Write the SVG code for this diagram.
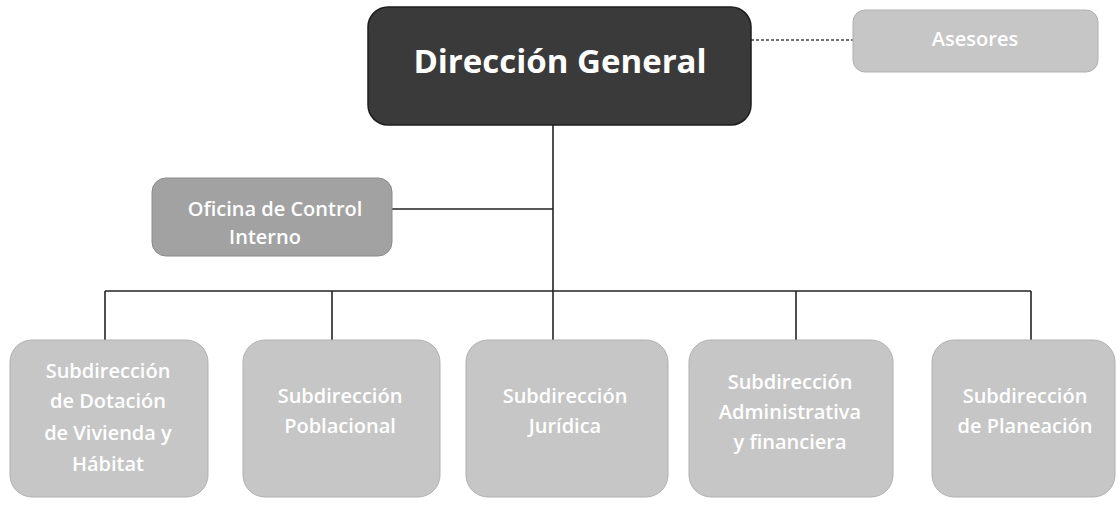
<svg xmlns="http://www.w3.org/2000/svg" width="1120" height="505" viewBox="0 0 1120 505">
<style>
.bg{fill:#ffffff}
.dark{fill:#3a3a3a;stroke:#1e1e1e;stroke-width:1.5}
.mid{fill:#a2a2a2;stroke:#8a8a8a;stroke-width:1}
.light{fill:#c6c6c6;stroke:#b0b0b0;stroke-width:1}
.t{font-family:"Open Sans","Liberation Sans",sans-serif;fill:#ffffff;text-anchor:middle;font-weight:600}
.big{font-size:33px;font-weight:700}
.sm{font-size:20px}
.ln{stroke:#222222;stroke-width:1.6;fill:none}
.dash{stroke:#444444;stroke-width:1.3;stroke-dasharray:3 2;fill:none}
</style>
<rect class="bg" x="0" y="0" width="1120" height="505"/>
<g id="connectors">
<line class="dash" x1="751" y1="40" x2="853" y2="40"/>
<line class="ln" x1="553" y1="125" x2="553" y2="291"/>
<line class="ln" x1="392" y1="209" x2="553" y2="209"/>
<line class="ln" x1="105" y1="291" x2="1031" y2="291"/>
<line class="ln" x1="105" y1="291" x2="105" y2="340"/>
<line class="ln" x1="332" y1="291" x2="332" y2="340"/>
<line class="ln" x1="553" y1="291" x2="553" y2="340"/>
<line class="ln" x1="796" y1="291" x2="796" y2="340"/>
<line class="ln" x1="1031" y1="291" x2="1031" y2="340"/>
</g>
<g id="direccion">
<rect class="dark" x="368" y="7" width="383" height="118" rx="20"/>
<text class="t big" x="560" y="73">Dirección General</text>
</g>
<g id="asesores">
<rect class="light" x="853" y="10" width="245" height="62" rx="12"/>
<text class="t sm" x="975" y="46">Asesores</text>
</g>
<g id="oficina">
<rect class="mid" x="152" y="178" width="240" height="78" rx="14"/>
<text class="t sm" x="275" y="216">Oficina de Control</text>
<text class="t sm" x="265" y="244">Interno</text>
</g>
<g id="sub1">
<rect class="light" x="10" y="340" width="198" height="157" rx="22"/>
<text class="t sm" x="108" y="378">Subdirección</text>
<text class="t sm" x="108" y="408">de Dotación</text>
<text class="t sm" x="108" y="440">de Vivienda y</text>
<text class="t sm" x="108" y="471">Hábitat</text>
</g>
<g id="sub2">
<rect class="light" x="243" y="340" width="197" height="157" rx="22"/>
<text class="t sm" x="340" y="403">Subdirección</text>
<text class="t sm" x="340" y="433">Poblacional</text>
</g>
<g id="sub3">
<rect class="light" x="466" y="340" width="202" height="157" rx="22"/>
<text class="t sm" x="565" y="403">Subdirección</text>
<text class="t sm" x="565" y="433">Jurídica</text>
</g>
<g id="sub4">
<rect class="light" x="689" y="340" width="204" height="157" rx="22"/>
<text class="t sm" x="790" y="389">Subdirección</text>
<text class="t sm" x="790" y="419">Administrativa</text>
<text class="t sm" x="790" y="449">y financiera</text>
</g>
<g id="sub5">
<rect class="light" x="932" y="340" width="183" height="157" rx="22"/>
<text class="t sm" x="1025" y="403">Subdirección</text>
<text class="t sm" x="1025" y="433">de Planeación</text>
</g>
</svg>
